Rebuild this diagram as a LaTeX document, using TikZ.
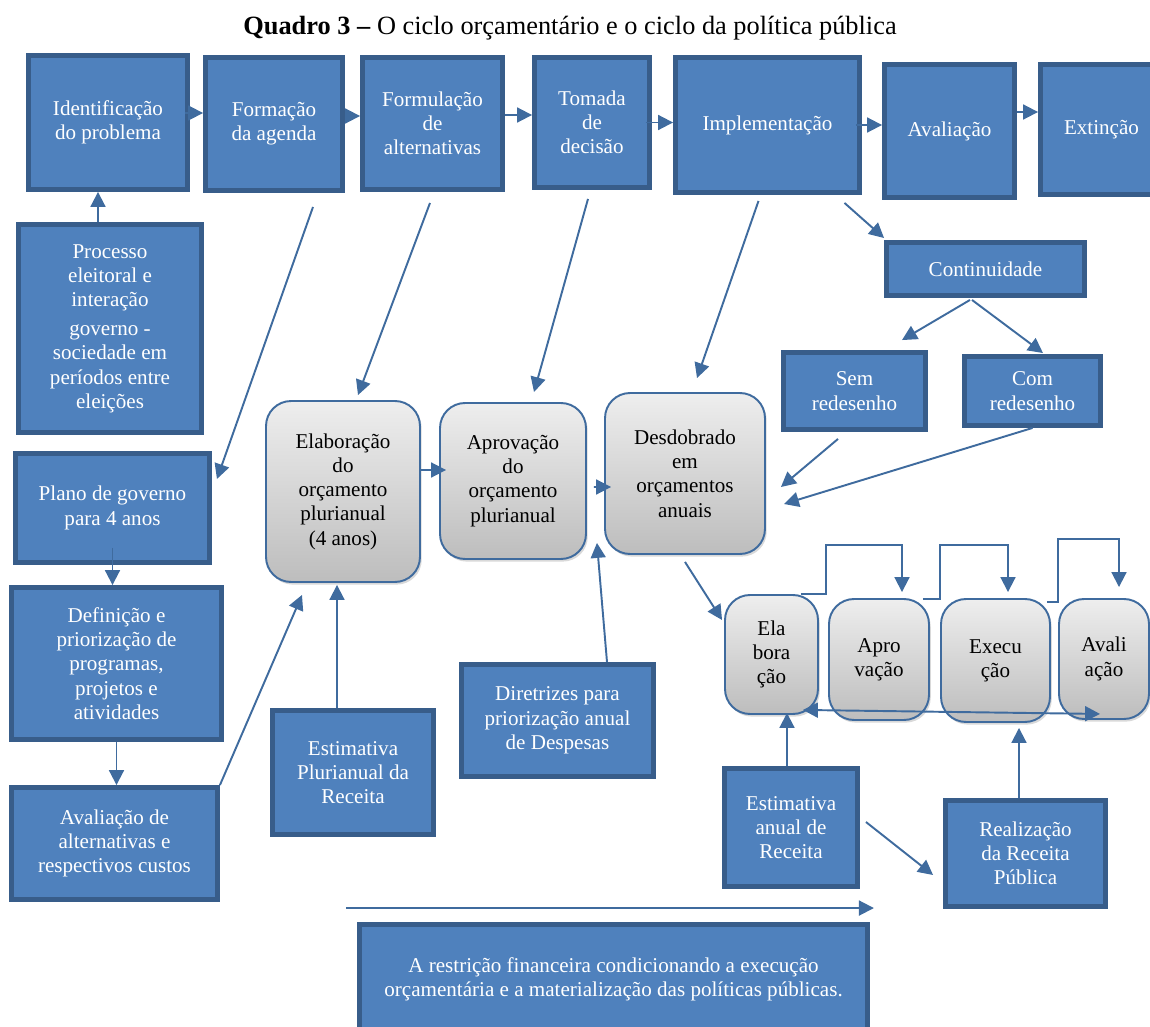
\documentclass[tikz,border=0pt]{standalone}
\usepackage{fontspec}
\setmainfont{Liberation Serif}
\usepackage{tikz}
\usepackage{xcolor}
\usetikzlibrary{arrows.meta,calc,shadows}
\definecolor{azulFundo}{HTML}{4F81BD}
\definecolor{azulBorda}{HTML}{385D8A}
\definecolor{azulSeta}{HTML}{3F6B9E}
\definecolor{cinzaTopo}{HTML}{EEEEEE}
\definecolor{cinzaBase}{HTML}{BDBDBD}
\tikzset{
CaixaAzul/.style={
 draw=azulBorda, 
 fill=azulFundo, 
 line width=2.8pt, 
 text=white, 
 align=center, 
 inner sep=1pt, 
 font=\fontsize{12}{13.8}\selectfont
 },
CaixaCinza/.style={
 draw=azulSeta, 
 line width=1.1pt, 
 rounded corners=0.5cm, 
 top color=cinzaTopo, 
 bottom color=cinzaBase, 
 drop shadow={opacity=0.3,shadow xshift=1pt,shadow yshift=-1.5pt}, 
 text=black, 
 align=center, 
 inner sep=1pt, 
 font=\fontsize{12}{13.8}\selectfont
 },
Seta/.style={
 draw=azulSeta, 
 line width=1.1pt, 
 -{Triangle[length=8.5pt,width=8.5pt]}
 },
SetaDupla/.style={
 draw=azulSeta, 
 line width=1.1pt, 
 {Triangle[length=8.5pt,width=8.5pt]}-{Triangle[length=8.5pt,width=8.5pt]}
 }
}
\begin{document}
\begin{tikzpicture}[x=0.02cm,y=-0.02cm]
\useasboundingbox (0,0) rectangle (1150,1027);
\node (titulo) at (570,28) {\fontsize{15}{18}\selectfont\textbf{Quadro 3 –} O ciclo orçamentário e o ciclo da política pública};
\node[CaixaAzul,minimum width=3.18cm,minimum height=2.68cm] (ident) at (108,122.5) {Identificação\\do problema};
\node[CaixaAzul,minimum width=2.74cm,minimum height=2.66cm] (form) at (274,124) {Formação\\da agenda};
\node[CaixaAzul,minimum width=2.80cm,minimum height=2.64cm] (formul) at (432.5,123.5) {Formulação\\de\\alternativas};
\node[CaixaAzul,minimum width=2.30cm,minimum height=2.60cm] (tomada) at (592,122.5) {Tomada\\de\\decisão};
\node[CaixaAzul,minimum width=3.68cm,minimum height=2.70cm] (impl) at (767.5,125) {Implementação};
\node[CaixaAzul,minimum width=2.60cm,minimum height=2.66cm] (aval) at (949.5,131) {Avaliação};
\node[CaixaAzul,minimum width=2.44cm,minimum height=2.60cm] (ext) at (1101.5,129.5) {Extinção};
\node[CaixaAzul,minimum width=3.96cm,minimum height=1.06cm] (cont) at (985.5,269) {Continuidade};
\node[CaixaAzul,minimum width=2.84cm,minimum height=1.54cm] (sem) at (854.5,391) {Sem\\redesenho};
\node[CaixaAzul,minimum width=2.72cm,minimum height=1.38cm] (com) at (1032.5,391) {Com\\redesenho};
\node[CaixaAzul,minimum width=3.66cm,minimum height=4.16cm] (proc) at (110,328.5) {Processo\\eleitoral e\\interação\\[2.7pt]governo -\\sociedade em\\períodos entre\\eleições};
\node[CaixaAzul,minimum width=3.88cm,minimum height=2.18cm] (plano) at (112.5,508) {Plano de governo\\para 4 anos};
\node[CaixaAzul,minimum width=4.20cm,minimum height=3.04cm] (defin) at (116.5,663.5) {Definição e\\priorização de\\programas,\\projetos e\\atividades};
\node[CaixaAzul,minimum width=4.12cm,minimum height=2.24cm] (avalt) at (114.5,843.5) {Avaliação de\\alternativas e\\respectivos custos};
\node[CaixaAzul,minimum width=3.22cm,minimum height=2.48cm] (estpl) at (353,772.5) {Estimativa\\Plurianual da\\Receita};
\node[CaixaAzul,minimum width=3.84cm,minimum height=2.24cm] (diretr) at (557.5,720.5) {Diretrizes para\\priorização anual\\de Despesas};
\node[CaixaAzul,minimum width=2.66cm,minimum height=2.36cm] (estan) at (791,827.5) {Estimativa\\anual de\\Receita};
\node[CaixaAzul,minimum width=3.20cm,minimum height=2.12cm] (realiz) at (1025.5,853.5) {Realização\\da Receita\\Pública};
\node[CaixaAzul,minimum width=10.16cm,minimum height=2.18cm] (restr) at (613.5,979) {A restrição financeira condicionando a execução\\orçamentária e a materialização das políticas públicas.};
\node[CaixaCinza,minimum width=3.08cm,minimum height=3.62cm] (elab) at (343,491.5) {Elaboração\\do\\orçamento\\plurianual\\(4 anos)};
\node[CaixaCinza,minimum width=2.92cm,minimum height=3.12cm] (aprov) at (513,481) {Aprovação\\do\\orçamento\\plurianual};
\node[CaixaCinza,minimum width=3.20cm,minimum height=3.22cm] (desd) at (685,473.5) {Desdobrado\\em\\orçamentos\\anuais};
\node[CaixaCinza,minimum width=1.86cm,minimum height=2.38cm] (ela) at (771.5,654.5) {Ela\\bora\\ção};
\node[CaixaCinza,minimum width=2.00cm,minimum height=2.42cm] (apro) at (879,659.5) {Apro\\vação};
\node[CaixaCinza,minimum width=2.18cm,minimum height=2.46cm] (exec) at (995.5,660.5) {Execu\\ção};
\node[CaixaCinza,minimum width=1.80cm,minimum height=2.40cm] (avali) at (1104,659) {Avali\\ação};
\draw[Seta] ($(ident.east)+(-5,-9.5)$) -- ($(form.west)+(0,-11)$);
\draw[Seta] ($(form.east)+(0,-8)$) -- ($(formul.west)+(0,-7.5)$);
\draw[Seta] ($(formul.east)+(0,-8.5)$) -- ($(tomada.west)+(0,-7.5)$);
\draw[Seta] ($(tomada.east)+(-6,0)$) -- (tomada.east -| impl.west);
\draw[Seta] ($(impl.east)+(-6,0)$) -- (impl.east -| aval.west);
\draw[Seta] ($(aval.east)+(0,-19)$) -- ($(ext.west)+(0,-17.5)$);
\draw[Seta] ($(proc.north)+(-12,0)$) -- ($(ident.south)+(-10,0)$);
\draw[Seta] ($(form.south)+(39,14)$) -- ($(plano.east)+(5,-29)$);
\draw[Seta] ($(formul.south)+(-2.5,11)$) -- ($(elab.north)+(15,-5)$);
\draw[Seta] ($(tomada.south)+(-4,9)$) -- ($(aprov.north)+(21,-10)$);
\draw[Seta] ($(impl.south)+(-9,6)$) -- ($(desd.north)+(12,-14)$);
\draw[Seta] ($(impl.south)+(77,8)$) -- ($(cont.north west)+(0,-2)$);
\draw[Seta] ($(cont.south)+(-15.5,2)$) -- ($(sem.north)+(47.5,-10)$);
\draw[Seta] ($(cont.south)+(-13.5,2)$) -- ($(com.north)+(10.5,-1)$);
\draw[Seta] ($(sem.south)+(-16.5,7)$) -- ($(desd.east)+(15,13.5)$);
\draw[Seta] (com.south) -- ($(desd.east)+(18,30.5)$);
\draw[Seta] ($(elab.east)+(0,-21.5)$) -- ($(aprov.west)+(7,-11)$);
\draw[Seta] ($(aprov.east)+(7,6)$) -- ($(desd.west)+(7,13.5)$);
\draw[Seta] ($(plano.south)+(0,-17)$) -- (plano.south |- defin.north);
\draw[Seta] (defin.south) -- (defin.south |- avalt.north);
\draw[Seta] (avalt.north east) -- ($(elab.south)+(-41,12)$);
\draw[Seta] ($(estpl.north)+(-16,0)$) -- ($(elab.south)+(-6,2)$);
\draw[Seta] ($(diretr.north)+(49.5,0)$) -- ($(aprov.south east)+(10,-17)$);
\draw[Seta] ($(desd.south)+(0,7)$) -- ($(ela.west)+(-2,-34.5)$);
\draw[Seta] ($(estan.north)+(-4,0)$) -- ($(ela.south)+(15.5,-2)$);
\draw[Seta] ($(realiz.north)+(-6.5,0)$) -- ($(exec.south)+(23.5,5)$);
\draw[Seta] ($(estan.east)+(6,-5.5)$) -- ($(realiz.west)+(-10,21.5)$);
\draw[Seta] ($(restr.north west)+(-11,-14)$) -- ($(restr.north east)+(4,-14)$);
\draw[Seta] ($(ela.north east)+(-18,0)$) -| ($(ela.north east)+(7,-49)$) -| ($(apro.north)+(23,-6)$);
\draw[Seta] ($(apro.north east)+(-7,1)$) -| ($(apro.north east)+(10,-53)$) -| ($(exec.north)+(12.5,-6)$);
\draw[Seta] ($(exec.north east)+(-4,4)$) -| ($(exec.north east)+(7,-59)$) -| ($(avali.north)+(15,-11)$);
\draw[SetaDupla] ($(ela.south east)+(-16,-5)$) -- ($(avali.south west)+(42,-6)$);
\end{tikzpicture}
\end{document}
